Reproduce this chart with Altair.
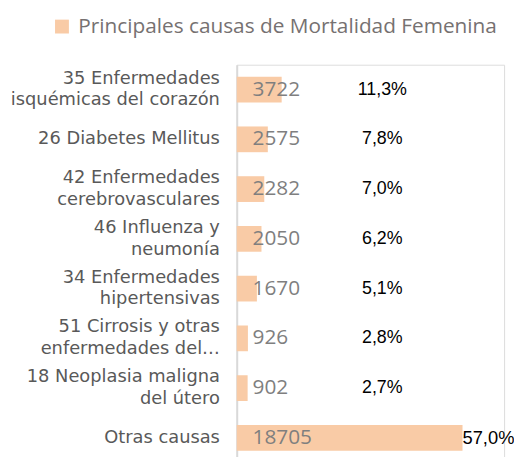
import altair as alt
import pandas as pd

categorias = [
    "35 Enfermedades\nisquémicas del corazón",
    "26 Diabetes Mellitus",
    "42 Enfermedades\ncerebrovasculares",
    "46 Influenza y\nneumonía",
    "34 Enfermedades\nhipertensivas",
    "51 Cirrosis y otras\nenfermedades del…",
    "18 Neoplasia maligna\ndel útero",
    "Otras causas",
]
valores = [3722, 2575, 2282, 2050, 1670, 926, 902, 18705]
porcentajes = ["11,3%", "7,8%", "7,0%", "6,2%", "5,1%", "2,8%", "2,7%", "57,0%"]
serie = "Principales causas de Mortalidad Femenina"

df = pd.DataFrame({
    "cat": categorias,
    "valor": valores,
    "pct": porcentajes,
    "serie": [serie] * len(categorias),
    "ultimo": [False] * (len(categorias) - 1) + [True],
})

y = alt.Y("cat:N", sort=categorias, title=None,
          scale=alt.Scale(paddingInner=0.48, paddingOuter=0.24),
          axis=alt.Axis(labels=False, ticks=False, domain=True,
                        domainColor="#d9d9d9", domainWidth=2, grid=False))
ys = alt.Y("cat:N", sort=categorias)
xscale = alt.Scale(domain=[0, 22150], zero=True, nice=False)

base = alt.Chart(df)

bars = base.mark_bar(size=26).encode(
    x=alt.X("valor:Q", scale=xscale, axis=None),
    y=y,
    color=alt.Color("serie:N", scale=alt.Scale(range=["#F9CBA6"]),
                    legend=alt.Legend(title=None, orient="none", legendX=-187, legendY=-49,
                                      symbolType="square", symbolSize=196,
                                      symbolStrokeWidth=0, labelFontSize=21,
                                      labelFont="Open Sans", labelColor="#767171",
                                      labelOffset=6, padding=0, labelLimit=600)),
)

valor_txt = base.mark_text(align="left", baseline="middle", font="Open Sans",
                           fontSize=21, color="#7f7f7f").encode(
    x=alt.value(16), y=ys, text="valor:Q",
)

pct_txt = base.transform_filter("!datum.ultimo").mark_text(
    align="center", baseline="middle", font="Liberation Sans",
    fontSize=18, color="#000000").encode(
    x=alt.value(147), y=ys, text="pct:N",
)

pct_last = base.transform_filter("datum.ultimo").mark_text(
    align="left", baseline="middle", font="Liberation Sans",
    fontSize=18.5, color="#000000").encode(
    x=alt.X("valor:Q", scale=xscale), y=ys, text="pct:N",
)

cat_props = dict(align="right", baseline="middle", font="DejaVu Sans",
                 fontSize=18, color="#595959", lineBreak="\n", lineHeight=22)

cat_multi = base.transform_filter("indexof(datum.cat, '\\n') >= 0").mark_text(
    dy=-11, **cat_props).encode(x=alt.value(-17), y=ys, text="cat:N")

cat_single = base.transform_filter("indexof(datum.cat, '\\n') < 0").mark_text(
    **cat_props).encode(x=alt.value(-17), y=ys, text="cat:N")

chart = alt.layer(bars, valor_txt, pct_txt, pct_last, cat_multi, cat_single).properties(
    width=270, height=402,
    autosize=alt.AutoSizeParams(type="none"),
    padding={"left": 231, "top": 55, "right": 10, "bottom": 0},
).configure_view(stroke=None).configure(background="white")

chart.save("out.html", embed_options={"renderer": "svg", "actions": False})
